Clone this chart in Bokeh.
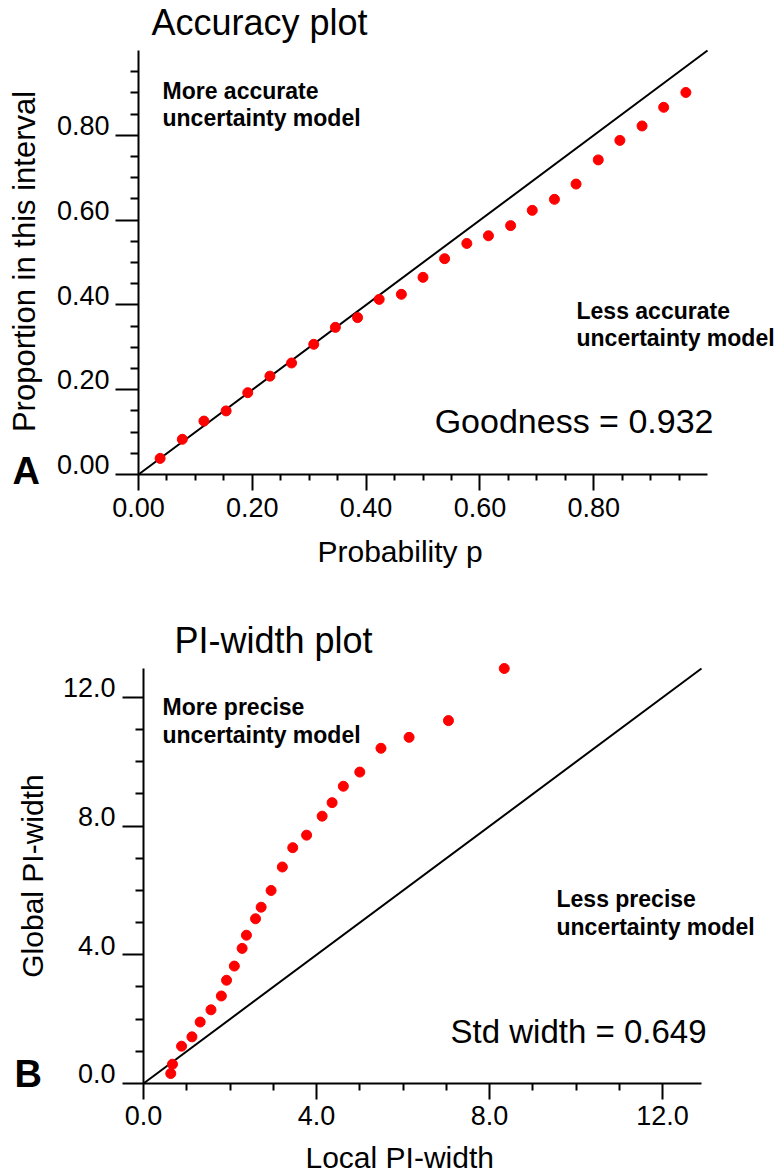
from bokeh.plotting import figure
from bokeh.models import Range1d, FixedTicker
from bokeh.core.properties import value
from bokeh.layouts import column
from bokeh.embed import file_html
from bokeh.resources import INLINE

# ---------------- data ----------------
# Panel A: accuracy plot
acc_p = [0.038, 0.077, 0.115, 0.154, 0.192, 0.231, 0.269, 0.308, 0.346, 0.385,
         0.423, 0.462, 0.500, 0.538, 0.577, 0.615, 0.654, 0.692, 0.731, 0.769,
         0.808, 0.846, 0.885, 0.923, 0.962]
acc_prop = [0.038, 0.083, 0.126, 0.150, 0.193, 0.232, 0.263, 0.307, 0.347, 0.370,
            0.413, 0.425, 0.465, 0.509, 0.545, 0.563, 0.587, 0.623, 0.649, 0.685,
            0.742, 0.788, 0.822, 0.866, 0.901]
acc_ref = [0.0, 1.0]
acc_ticks = [0.0, 0.2, 0.4, 0.6, 0.8]
acc_tick_labels = ["0.00", "0.20", "0.40", "0.60", "0.80"]
acc_minor = [0.05, 0.10, 0.15, 0.25, 0.30, 0.35, 0.45, 0.50, 0.55,
             0.65, 0.70, 0.75, 0.85, 0.90, 0.95]

# Panel B: PI-width plot
piw_local = [0.63, 0.67, 0.88, 1.12, 1.31, 1.56, 1.80, 1.92, 2.10, 2.28,
             2.38, 2.59, 2.72, 2.95, 3.21, 3.45, 3.77, 4.13, 4.36, 4.62,
             5.00, 5.49, 6.14, 7.05, 8.34]
piw_global = [0.31, 0.60, 1.16, 1.45, 1.91, 2.29, 2.72, 3.21, 3.65, 4.20,
              4.61, 5.12, 5.48, 6.00, 6.73, 7.33, 7.72, 8.31, 8.73, 9.24,
              9.68, 10.42, 10.76, 11.28, 12.90]
piw_ref = [0.0, 12.9]
piw_ticks = [0.0, 4.0, 8.0, 12.0]
piw_tick_labels = ["0.0", "4.0", "8.0", "12.0"]
piw_minor = [1, 2, 3, 5, 6, 7, 9, 10, 11]

FONT = "Liberation Sans"
W = 781


def make_fig(H, FL, FR, FT, FB, xmax, ymax, ticks, minor,
             xtick_out, xminor_out, ytick_out, yminor_out):
    # whole canvas is the frame; axes are pinned at data 0 with fixed_location
    x0 = -FL / (FR - FL) * xmax
    x1 = (W - FL) / (FR - FL) * xmax
    y0 = (FB - H) / (FB - FT) * ymax
    y1 = FB / (FB - FT) * ymax
    p = figure(width=W, height=H, output_backend="svg", toolbar_location=None,
               x_range=Range1d(x0, x1), y_range=Range1d(y0, y1),
               min_border=0)
    p.outline_line_color = None
    p.xgrid.visible = False
    p.ygrid.visible = False
    p.background_fill_color = "white"
    p.border_fill_color = "white"
    for ax, mo, mi, mx in ((p.xaxis[0], xtick_out, xminor_out, xmax),
                           (p.yaxis[0], ytick_out, yminor_out, ymax)):
        ax.fixed_location = 0
        ax.bounds = (0, mx)
        ax.ticker = FixedTicker(ticks=ticks, minor_ticks=minor)
        ax.axis_line_width = 2
        ax.axis_line_color = "black"
        ax.major_tick_in = 0
        ax.major_tick_out = mo
        ax.minor_tick_in = 0
        ax.minor_tick_out = mi
        ax.major_tick_line_width = 2
        ax.minor_tick_line_width = 2
        ax.major_tick_line_color = "black"
        ax.minor_tick_line_color = "black"
        ax.major_label_text_color = None
        ax.major_label_text_font_size = "1px"
    return p


class Mapper:
    def __init__(self, FL, FR, FT, FB, xmax, ymax):
        self.FL, self.FR, self.FT, self.FB = FL, FR, FT, FB
        self.ppx = (FR - FL) / xmax
        self.ppy = (FB - FT) / ymax

    def x(self, px):
        return (px - self.FL) / self.ppx

    def y(self, py):
        return (self.FB - py) / self.ppy


def txt(p, m, xs, ys, texts, size, bold=False, align="left", rotated=False):
    # xs/ys give the text baseline position (data units); shift to cap centre
    shift = 0.36 * size
    if rotated:
        xs = [x - shift / m.ppx for x in xs]
        angle = 1.5707963
    else:
        ys = [y + shift / m.ppy for y in ys]
        angle = 0.0
    p.text(x=xs, y=ys, text=texts, text_font=value(FONT),
           text_font_size=value(f"{size}px"),
           text_font_style="bold" if bold else "normal",
           text_align=align, text_baseline="middle",
           angle=angle, text_color="black")


def tick_labels(p, m, ticks, labels, yright, xbase, size):
    txt(p, m, [m.x(yright)] * len(ticks), ticks, labels, size, align="right")
    txt(p, m, ticks, [m.y(xbase)] * len(ticks), labels, size, align="center")


# ---------------- Panel A ----------------
H1 = 590
p1 = make_fig(H1, 138, 707, 50, 474, 1.0, 1.0,
              acc_ticks, acc_minor, 16, 6, 23, 8)
ma = Mapper(138, 707, 50, 474, 1.0, 1.0)
p1.line(acc_ref, acc_ref, line_color="black", line_width=2)
p1.scatter(acc_p, acc_prop, size=10, fill_color="#ff0000", line_color="#ff0000")
tick_labels(p1, ma, acc_ticks, acc_tick_labels, 109, 516.7, 27)
txt(p1, ma, [ma.x(151)], [ma.y(35)], ["Accuracy plot"], 36)
txt(p1, ma, [ma.x(35)], [ma.y(261)], ["Proportion in this interval"], 31,
    align="center", rotated=True)
txt(p1, ma, [ma.x(317)], [ma.y(561.7)], ["Probability p"], 30)
txt(p1, ma, [ma.x(12)], [ma.y(484)], ["A"], 38, bold=True)
txt(p1, ma, [ma.x(162), ma.x(162)], [ma.y(98.5), ma.y(126)],
    ["More accurate", "uncertainty model"], 23, bold=True)
txt(p1, ma, [ma.x(576), ma.x(576)], [ma.y(318.5), ma.y(346)],
    ["Less accurate", "uncertainty model"], 23, bold=True)
txt(p1, ma, [ma.x(713)], [ma.y(433)], ["Goodness = 0.932"], 34, align="right")

# ---------------- Panel B ----------------
H2 = 585
OFF = 590
p2 = make_fig(H2, 143, 701, 78, 493, 12.9, 12.9,
              piw_ticks, piw_minor, 16, 7, 21, 8)
mb = Mapper(143, 701, 78, 493, 12.9, 12.9)
p2.line(piw_ref, piw_ref, line_color="black", line_width=2)
p2.scatter(piw_local, piw_global, size=10, fill_color="#ff0000",
           line_color="#ff0000")
tick_labels(p2, mb, piw_ticks, piw_tick_labels, 115, 1125 - OFF, 27)
txt(p2, mb, [mb.x(174)], [mb.y(653 - OFF)], ["PI-width plot"], 36)
txt(p2, mb, [mb.x(43)], [mb.y(875.5 - OFF)], ["Global PI-width"], 30,
    align="center", rotated=True)
txt(p2, mb, [mb.x(305)], [mb.y(1168 - OFF)], ["Local PI-width"], 30)
txt(p2, mb, [mb.x(14)], [mb.y(1086.7 - OFF)], ["B"], 38, bold=True)
txt(p2, mb, [mb.x(162), mb.x(162)], [mb.y(715 - OFF), mb.y(742.5 - OFF)],
    ["More precise", "uncertainty model"], 23, bold=True)
txt(p2, mb, [mb.x(556), mb.x(556)], [mb.y(906.7 - OFF), mb.y(934.3 - OFF)],
    ["Less precise", "uncertainty model"], 23, bold=True)
txt(p2, mb, [mb.x(706)], [mb.y(1043.3 - OFF)], ["Std width = 0.649"], 33,
    align="right")

layout = column(p1, p2, spacing=0)
open("out.html", "w").write(file_html(layout, INLINE))
